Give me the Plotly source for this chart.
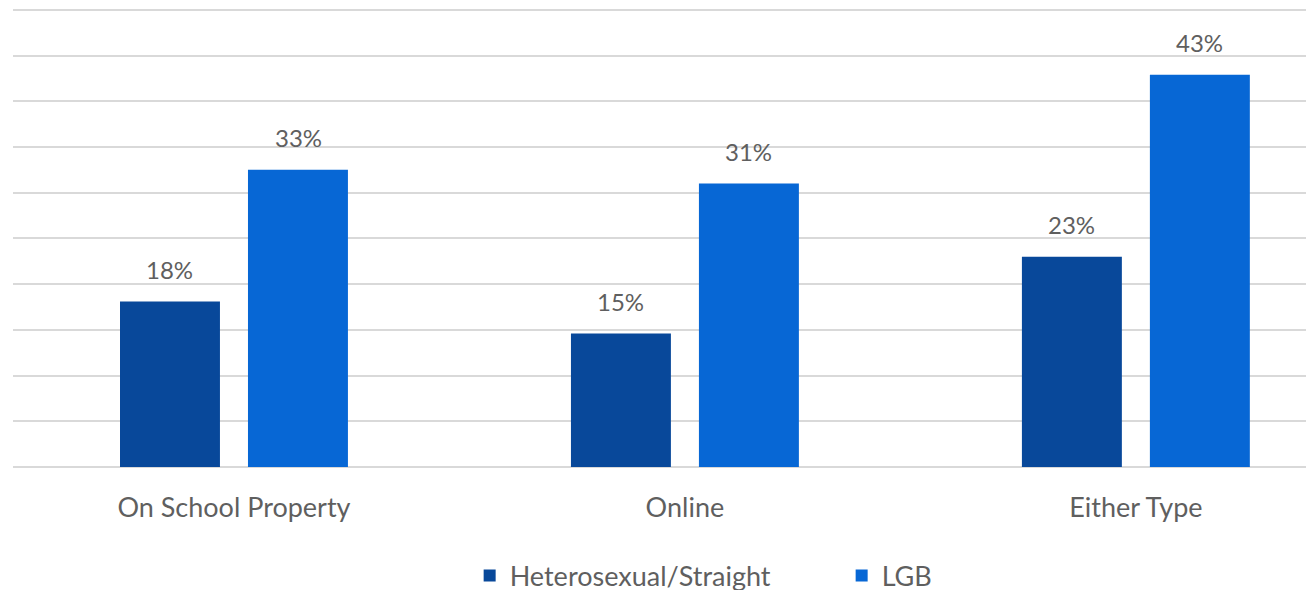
import plotly.graph_objects as go

categories = ["On School Property", "Online", "Either Type"]
series_names = ["Heterosexual/Straight", "LGB"]
# bar heights (labels are the rounded values shown)
hetero = [18.1, 14.6, 23.0]
lgb = [32.5, 31.0, 42.9]
hetero_labels = ["18%", "15%", "23%"]
lgb_labels = ["33%", "31%", "43%"]
colors = ["#08489A", "#0767D5"]

fig = go.Figure()
for name, vals, col in zip(series_names, [hetero, lgb], colors):
    fig.add_trace(go.Bar(x=categories, y=vals, name=name, marker_color=col,
                         marker_line_width=0))

offsets = [-0.142, 0.142]
for off, vals, labels in zip(offsets, [hetero, lgb], [hetero_labels, lgb_labels]):
    for i, (v, t) in enumerate(zip(vals, labels)):
        fig.add_annotation(x=i + off, y=v, text=t, showarrow=False,
                           yanchor="middle", yshift=32,
                           font=dict(family="Lato", size=24, color="#5f5f5f"))

fig.update_layout(
    width=1306, height=600,
    margin=dict(l=5, r=0, t=0, b=141, autoexpand=False),
    paper_bgcolor="white", plot_bgcolor="white",
    barmode="group", bargap=0.4324, bargroupgap=0.219,
    font=dict(family="Lato", color="#5f5f5f"),
    legend=dict(orientation="h", x=0.351, xanchor="left", y=-0.2375, yanchor="middle",
                font=dict(family="Lato", size=27, color="#5f5f5f"),
                itemwidth=30, traceorder="normal",
                entrywidth=327, entrywidthmode="pixels"),
    showlegend=True,
)
fig.update_xaxes(range=[-0.49, 2.395], showgrid=False, showline=False,
                 ticks="outside", ticklen=17, tickcolor="rgba(0,0,0,0)",
                 tickfont=dict(family="Lato", size=27, color="#5f5f5f"))
fig.update_yaxes(range=[0, 50.2], dtick=5, showgrid=True, gridcolor="#d9d9d9",
                 gridwidth=1.5, showticklabels=False, zeroline=True,
                 zerolinecolor="#d9d9d9", zerolinewidth=1.5)

fig.write_html("out.html")
